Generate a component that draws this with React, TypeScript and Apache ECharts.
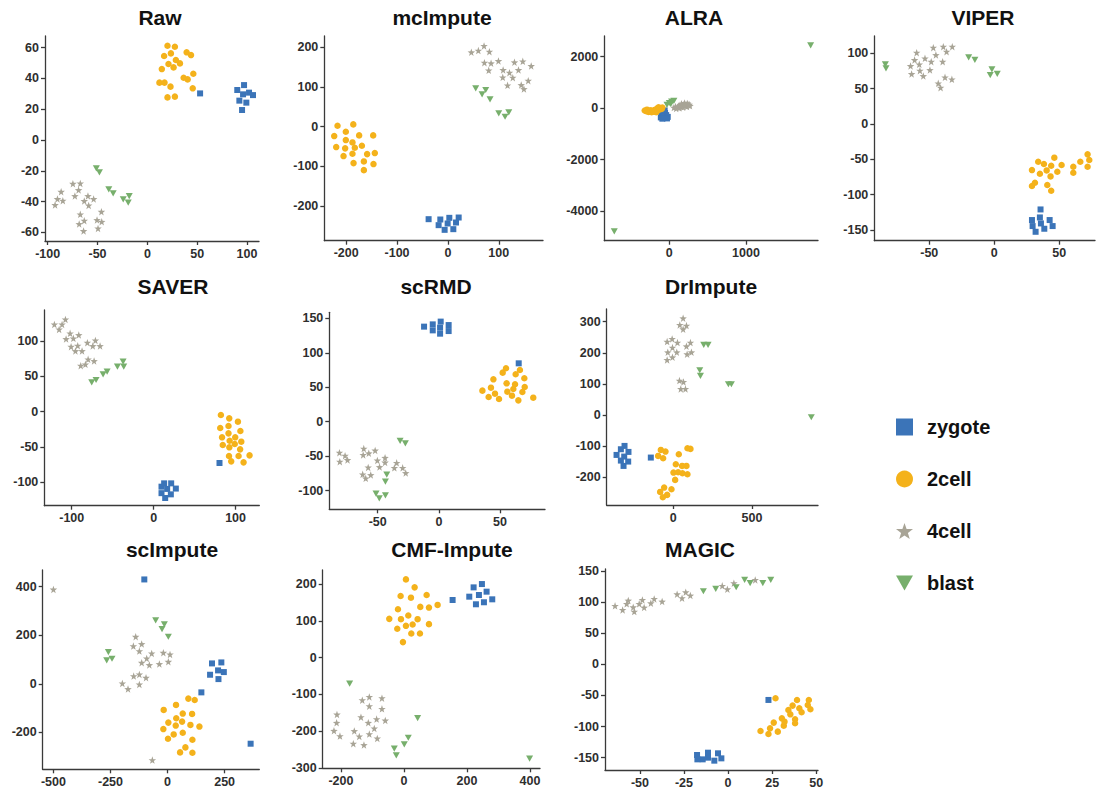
import React, { useEffect, useRef } from 'react';
import * as echarts from 'echarts';

// ---------- data: [x, y] per cell, per method ----------
const rawZygote = [[52.9,30.3],[90.2,32.5],[97,35.7],[96,29.7],[102,30.8],[106,29.2],[92.3,25.6],[99.3,24.3],[95,19.5]];
const raw2cell = [[20.2,61.3],[27.6,60.6],[16.8,54.6],[23.6,56.3],[28.6,52],[39.4,57],[43.8,55.2],[21.2,49.4],[26.3,47.2],[32.7,49.8],[14.5,46.1],[46.1,43.1],[36.4,40.5],[40.4,39.4],[12.1,37.3],[17.2,37.3],[23.2,34.7],[45.5,33.6],[20.2,27.7],[27.6,28.2]];
const raw4cell = [[-74.7,-28.4],[-67.3,-28.2],[-69,-32.5],[-86.5,-33.6],[-90.2,-38.3],[-84.8,-39.4],[-92.6,-42.2],[-72.7,-36.4],[-59.6,-36.4],[-53.9,-38.3],[-63.3,-39.6],[-58.9,-42.5],[-67.3,-48.3],[-46.1,-46.6],[-63.3,-52.4],[-68.4,-54.6],[-50.5,-52],[-45.8,-53.1],[-49.5,-57.4],[-64,-59.1]];
const rawBlast = [[-51.2,-18.4],[-48.1,-21],[-38.7,-32.1],[-34.3,-34.7],[-24.2,-38.6],[-18.2,-36.4],[-19.2,-40.7]];

const mcZygote = [[-37.9,-233.7],[-14.9,-234.5],[2.8,-230.3],[21.2,-229.5],[-18.2,-248.8],[-0.5,-244.6],[16,-242.1],[-6.4,-260.6],[10.7,-258.9]];
const mc2cell = [[-217,2],[-186,5.5],[-223.5,-24],[-200.7,-13],[-174.5,-22.3],[-146.9,-22.3],[-219.6,-51.8],[-200.7,-34.1],[-187.6,-40],[-202,-55],[-183,-53.5],[-169.1,-48.4],[-187.6,-68.6],[-205.2,-74.5],[-158.8,-69.5],[-143.7,-66.9],[-165.2,-88],[-185.5,-92.2],[-146.3,-94.7],[-165.2,-110]];
const mc4cell = [[46.1,187.4],[59.9,191.6],[71.1,203.4],[81.6,189],[71.8,161.3],[84.9,159.6],[80.3,141.9],[99.4,165.5],[108.6,142.7],[121.1,136],[107.9,124.2],[127.6,123.4],[130.9,162.1],[138.8,142.7],[147.3,164.6],[163.8,152.8],[117.3,104],[144.2,104.8],[149.5,94.7],[158,115.8]];
const mcBlast = [[54.7,96.4],[74.4,92.2],[67.2,81.3],[82.9,68.6],[100,33.3],[112.4,24.8],[119.7,35.8]];

const alraZygote = [[-60,-90],[-55,-190],[-100,-260],[-40,-270],[-110,-360],[-70,-330],[-20,-340],[-90,-410],[-30,-400]];
const alra2cell = [[-320,-90],[-300,-120],[-290,-60],[-270,-150],[-260,-100],[-250,-130],[-240,-80],[-230,-160],[-210,-110],[-200,-140],[-190,-70],[-180,-120],[-170,-160],[-160,-20],[-150,-90],[-140,30],[-130,-50],[-120,0],[-100,-30],[-90,20]];
const alra4cell = [[60,20],[80,60],[90,-10],[110,40],[120,80],[130,10],[140,120],[150,60],[160,170],[170,100],[180,30],[190,140],[200,200],[210,90],[220,150],[230,60],[240,180],[250,110],[260,140],[270,90]];
const alraBlast = [[1843,2443],[-717,-4788],[-30,130],[0,200],[30,250],[60,280],[20,160]];

const viperZygote = [[35.6,-120.8],[35.1,-132.1],[29,-135.8],[35.9,-140.6],[42.6,-135.8],[29.5,-144.3],[38.5,-148.1],[44.9,-144.3],[31.8,-152.4]];
const viper2cell = [[33.8,-53.3],[46.2,-47.6],[38.2,-56.6],[43.8,-59],[51.8,-58],[29,-65.1],[40.3,-65.6],[48.5,-67.5],[35.1,-70.3],[43.3,-74.1],[60.8,-60.4],[60.8,-68.9],[66.2,-53.3],[71.8,-42.9],[73.1,-50.9],[71.8,-60.4],[31.3,-83],[29,-87.7],[40.8,-86.3],[43.8,-94.3]];
const viper4cell = [[-59.7,100.9],[-46.9,108],[-39.2,109.4],[-32.3,109.4],[-36.7,102.4],[-61.3,90.6],[-53.3,92.9],[-44.9,97.6],[-57.7,84.4],[-48.5,88.2],[-39.7,88.2],[-64.4,82.1],[-57.2,75.5],[-49.5,76.4],[-63.6,70.8],[-54.6,67.9],[-43.1,57.5],[-41.3,51.4],[-37.9,66],[-32.6,63.2]];
const viperBlast = [[-83.8,84.4],[-83.3,78.8],[-19.7,94.3],[-14.9,90.6],[-1.8,77.4],[-3.1,69.3],[2.3,70.8]];

const saverZygote = [[80.4,-73],[9.6,-106.6],[21.4,-101.9],[12.8,-101.9],[16.5,-109.8],[27.1,-109.3],[9.6,-115.8],[21,-117.5],[14.1,-122.7]];
const saver2cell = [[82.1,-5],[92.3,-9.7],[102.9,-14.4],[81.3,-23.4],[91.4,-20.6],[105.9,-27.7],[83.5,-36.6],[91.4,-31],[99.6,-36.6],[107,-42.8],[84.4,-47.5],[92.8,-41.4],[99,-46.1],[92.4,-50.8],[105.6,-53.7],[92,-63.1],[103.7,-63.1],[117.1,-62.2],[94.7,-70.7],[109.8,-72.1]];
const saver4cell = [[-121.2,123.6],[-111.8,123.6],[-107.7,130.7],[-115.4,116.5],[-102,110.9],[-91.4,108.5],[-106.9,102.8],[-98,103.8],[-100.8,92],[-92.7,93.4],[-95.5,85.8],[-87.4,85.8],[-80.9,97.6],[-71.1,100.9],[-74.3,92.9],[-65.4,92.9],[-80,74],[-72.7,71.6],[-89,65],[-83.3,66.9]];
const saverBlast = [[-75.6,41.4],[-70.3,44.7],[-61.7,52.7],[-56.8,56.5],[-44.2,63.6],[-37.3,70.7],[-36.5,63.6]];

const scrmdZygote = [[-12.1,137.9],[-5,141.2],[-5,132.5],[1.5,145.2],[1,136.4],[1,127.7],[8,140.2],[8,131.5],[65.3,84.7]];
const scrmd2cell = [[52.2,71.2],[54.9,77.5],[66.3,75.1],[62.8,68.8],[44.6,61.5],[55.4,55.7],[62.3,54.3],[69.9,63],[35.6,45.1],[42.6,49.4],[45.9,40.7],[56,43.6],[60.9,47.5],[68.3,43.1],[70.2,50.4],[40.7,35.9],[49.2,33],[59.8,37.8],[65,31],[77.2,34.9]];
const scrmd4cell = [[-81.3,-44.9],[-76.7,-49.2],[-81,-57.9],[-74.7,-55.5],[-61.4,-39],[-57.3,-45.8],[-61.9,-48.2],[-52.1,-41.7],[-50.3,-56.1],[-44,-52.3],[-44,-59.1],[-57.8,-66.2],[-48.5,-65.7],[-62.3,-76.3],[-55.7,-77.3],[-59.8,-82.1],[-34.5,-59.6],[-36.4,-66.9],[-29.6,-66.9],[-27.1,-74.4]];
const scrmdBlast = [[-31.7,-27.9],[-27.4,-31.3],[-42.6,-76.8],[-43.7,-87],[-51.4,-104.4],[-48.7,-111.2],[-43.7,-106.9]];

const drZygote = [[-308,-99.8],[-331.2,-110.5],[-283,-119.1],[-358.6,-128.8],[-310.1,-134.1],[-331.2,-147],[-284.8,-150.2],[-314.3,-164.2],[-141.4,-137.3]];
const dr2cell = [[-78,-112.7],[-48.5,-118],[-95,-132],[-63.3,-139.5],[90.7,-107.3],[109.7,-109.4],[35.9,-126.6],[16.9,-158.8],[57,-164.2],[84.4,-164.2],[2.1,-185.6],[31.6,-184.5],[59.1,-187.8],[90.7,-191],[12.7,-209.2],[-57,-233.9],[-82.3,-247.9],[-38,-257.5],[-65.4,-265],[-10.5,-239.3]];
const dr4cell = [[63.3,311],[42.2,289.7],[84.4,287.6],[63.3,275.8],[-38,236],[-6.3,244.6],[27.4,232.8],[-4.2,216.7],[109.7,232.8],[84.4,221],[-33.8,201.7],[23.2,201.7],[116,201.7],[88.6,195.3],[-4.2,185.6],[-38,177],[40,110.5],[65.4,106.2],[48.5,83.7],[78,83.7]];
const drBlast = [[194,225.3],[221.5,225.3],[168.8,143.8],[173,125.5],[350.2,98.7],[369.2,98.7],[875.5,-7.5]];

const sciZygote = [[-101.8,430.1],[194.8,84.2],[235.7,88.3],[221.3,55.4],[186.3,37.5],[246.6,48.5],[223.1,19.6],[148.2,-35.1],[364,-246.6]];
const sci2cell = [[91.1,-60.8],[118.9,-66.3],[37.1,-86.8],[-16.9,-107.4],[66.6,-122.5],[107.5,-123.9],[38.1,-141.7],[3.5,-159.6],[63.7,-155.5],[35.9,-171.9],[100.2,-169.2],[139.6,-176],[-18.4,-186.3],[26.9,-208.3],[66.6,-201.4],[2,-226.1],[108.9,-230.2],[78.2,-261.8],[54.9,-282.4],[108.9,-283.8]];
const sci4cell = [[-500,388.8],[-139.6,194],[-149.8,155.6],[-113.3,163.9],[-123.5,135],[-69.4,125.4],[-91.3,104.8],[-18.4,128.1],[10.8,121.2],[3.5,91.1],[-35.9,81.5],[-79.7,77.4],[-113.3,87],[-148.3,32],[-123.5,38.9],[-94.3,25.1],[-198,1.8],[-173.2,-21.4],[-123.5,-2.3],[-66.6,-314]];
const sciBlast = [[-52,261.4],[-14,245],[-24.2,225.7],[3.5,194],[-259.3,130.9],[-266.6,96.6],[-243.3,103.4]];

const cmfZygote = [[154.5,156.5],[221.2,190.8],[247.6,199.8],[207.4,165.5],[238.1,170],[262.4,179.1],[280.4,158.3],[228.6,144.8],[254,150.3]];
const cmf2cell = [[6.3,212.5],[33.9,190.8],[-10.6,167.3],[22.2,162.8],[72,170],[-19,131.4],[51.9,137.7],[79.4,135.9],[106.9,143.1],[-46.6,105.2],[-9.5,104.3],[13.8,114.3],[43.4,104.3],[-21.2,78.2],[6.3,86.3],[27.5,89.9],[79.4,90.8],[23.3,65.5],[50.8,65.5],[-3.2,42]];
const cmf4cell = [[-212.7,-154.7],[-213.8,-177.3],[-222.2,-199],[-203.2,-213.4],[-132.3,-115.9],[-110,-106.9],[-110,-132.2],[-69.8,-110.5],[-69.8,-139.4],[-59.3,-171],[-136.5,-162],[-113.2,-177.3],[-86.8,-167.3],[-94.2,-192.6],[-157.7,-199.8],[-141.8,-214.3],[-110,-208],[-84.7,-219.7],[-160.8,-234.1],[-127,-237.7]];
const cmfBlast = [[-172.5,-70.8],[43.4,-164.6],[13.8,-217.9],[1.1,-235.9],[-30.7,-247.7],[-24.3,-265.7],[398.9,-274.7]];

const magicZygote = [[22.9,-57.3],[-17.6,-145.7],[-14.4,-152.7],[-11.4,-142],[-11.4,-150],[-7.8,-154.8],[-5.7,-143],[-3.8,-151.1],[-17.4,-152.7]];
const magic2cell = [[26.9,-54.6],[18.4,-107.1],[22.9,-112],[23.8,-102.9],[25.9,-93.7],[28.2,-108.2],[30.5,-86.8],[31.6,-98.6],[32,-92.2],[34.2,-73.4],[35.3,-80.4],[36.6,-66.4],[38,-88.4],[38,-94.8],[39.1,-57.3],[40.4,-70.7],[41.7,-77.1],[45.2,-65.4],[45.8,-57.3],[46.7,-72.3]];
const magic4cell = [[-64.1,93.8],[-59.8,87.3],[-57.5,97],[-56.6,102.3],[-53.8,91.6],[-53.2,84.6],[-50.4,97],[-48.6,103.4],[-47.6,91.1],[-43.8,98],[-41.9,105],[-37.4,100.7],[-28.9,112.5],[-26.1,106.1],[-24,115.7],[-21.4,110.4],[-3.3,125.9],[-0.4,120.5],[3.3,130.2],[15.4,135.5]];
const magicBlast = [[-14,117.3],[-7,121.1],[4.6,123.7],[9.4,135.5],[12.5,130.2],[19.7,130.2],[24.2,135.5]];

// ---------- tick labels ----------
const rawXTicks = [-100, -50, 0, 50, 100];
const rawYTicks = [-60, -40, -20, 0, 20, 40, 60];
const mcXTicks = [-200, -100, 0, 100];
const mcYTicks = [-200, -100, 0, 100, 200];
const alraXTicks = [0, 1000];
const alraYTicks = [-4000, -2000, 0, 2000];
const viperXTicks = [-50, 0, 50];
const viperYTicks = [-150, -100, -50, 0, 50, 100];
const saverXTicks = [-100, 0, 100];
const saverYTicks = [-100, -50, 0, 50, 100];
const scrmdXTicks = [-50, 0, 50];
const scrmdYTicks = [-100, -50, 0, 50, 100, 150];
const drXTicks = [0, 500];
const drYTicks = [-200, -100, 0, 100, 200, 300];
const sciXTicks = [-500, -250, 0, 250];
const sciYTicks = [-200, 0, 200, 400];
const cmfXTicks = [-200, 0, 200, 400];
const cmfYTicks = [-300, -200, -100, 0, 100, 200];
const magicXTicks = [-50, -25, 0, 25, 50];
const magicYTicks = [-150, -100, -50, 0, 50, 100, 150];

const classNames = ['zygote', '2cell', '4cell', 'blast'];

// ---------- styling / layout ----------
const COLORS = ['#3B74B8', '#F4B21B', '#A8A496', '#77AF6C'];
const STAR = 'path://M50 0L61.76 33.82L97.55 34.55L69.02 56.18L79.39 90.45L50 70L20.61 90.45L30.98 56.18L2.45 34.55L38.24 33.82Z';
const TRI_DOWN = 'path://M0 0L100 0L50 87Z';
const SYMBOLS = ['rect', 'circle', STAR, TRI_DOWN];
const SIZES: any[] = [6, 6.5, 7.5, [7, 6.2]];
const FONT = '"Liberation Sans", Arial, sans-serif';

const panels = [
  { title: 'Raw', sets: [rawZygote, raw2cell, raw4cell, rawBlast], xt: rawXTicks, yt: rawYTicks, xr: [-102.7, 112], yr: [-65.6, 67.6], g: [45, 36, 214, 205], tp: [160, 17] },
  { title: 'mcImpute', sets: [mcZygote, mc2cell, mc4cell, mcBlast], xt: mcXTicks, yt: mcYTicks, xr: [-243, 187], yr: [-288, 228.5], g: [324.3, 36, 218.7, 204.7], tp: [442, 17] },
  { title: 'ALRA', sets: [alraZygote, alra2cell, alra4cell, alraBlast], xt: alraXTicks, yt: alraYTicks, xr: [-847, 1939], yr: [-5153, 2804], g: [604.3, 36, 213.7, 204.7], tp: [694, 17] },
  { title: 'VIPER', sets: [viperZygote, viper2cell, viper4cell, viperBlast], xt: viperXTicks, yt: viperYTicks, xr: [-92.3, 77.5], yr: [-165, 124.5], g: [874.3, 36, 220.7, 204.7], tp: [983, 17] },
  { title: 'SAVER', sets: [saverZygote, saver2cell, saver4cell, saverBlast], xt: saverXTicks, yt: saverYTicks, xr: [-133.5, 129], yr: [-133.6, 144], g: [44.3, 310, 215, 195.7], tp: [173, 286] },
  { title: 'scRMD', sets: [scrmdZygote, scrmd2cell, scrmd4cell, scrmdBlast], xt: scrmdXTicks, yt: scrmdYTicks, xr: [-89.6, 86.8], yr: [-127, 158.7], g: [329.3, 312.3, 215.7, 197], tp: [436, 286] },
  { title: 'DrImpute', sets: [drZygote, dr2cell, dr4cell, drBlast], xt: drXTicks, yt: drYTicks, xr: [-421, 918], yr: [-290, 341], g: [606.7, 309, 211.3, 196], tp: [711, 286] },
  { title: 'scImpute', sets: [sciZygote, sci2cell, sci4cell, sciBlast], xt: sciXTicks, yt: sciYTicks, xr: [-547, 402], yr: [-352, 469], g: [42.7, 570, 216.6, 199.3], tp: [172, 549] },
  { title: 'CMF-Impute', sets: [cmfZygote, cmf2cell, cmf4cell, cmfBlast], xt: cmfXTicks, yt: cmfYTicks, xr: [-258, 432], yr: [-301, 238], g: [322.7, 570, 217.3, 198.3], tp: [452, 549] },
  { title: 'MAGIC', sets: [magicZygote, magic2cell, magic4cell, magicBlast], xt: magicXTicks, yt: magicYTicks, xr: [-69.8, 51], yr: [-169.8, 153], g: [605, 569, 213, 201], tp: [700, 549] },
];

function buildOption() {
  const axisLineStyle = { color: '#3a3a3a', width: 1.3 };
  const labelStyle = {
    color: '#2e2e2e', fontSize: 12.5, fontWeight: 'bold' as const, fontFamily: FONT,
    formatter: (v: number) => String(v),
  };
  const grid: any[] = [];
  const xAxis: any[] = [];
  const yAxis: any[] = [];
  const series: any[] = [];
  const graphic: any[] = [];
  panels.forEach((p, i) => {
    grid.push({ left: p.g[0], top: p.g[1], width: p.g[2], height: p.g[3] });
    xAxis.push({
      type: 'value', gridIndex: i, min: p.xr[0], max: p.xr[1], position: 'bottom',
      axisLine: { show: true, onZero: false, lineStyle: axisLineStyle },
      axisTick: { show: true, length: 4, customValues: p.xt, lineStyle: axisLineStyle },
      axisLabel: { show: true, customValues: p.xt, margin: 6, ...labelStyle },
      splitLine: { show: false },
    });
    yAxis.push({
      type: 'value', gridIndex: i, min: p.yr[0], max: p.yr[1], position: 'left',
      axisLine: { show: true, onZero: false, lineStyle: axisLineStyle },
      axisTick: { show: true, length: 4, customValues: p.yt, lineStyle: axisLineStyle },
      axisLabel: { show: true, customValues: p.yt, margin: 6, ...labelStyle },
      splitLine: { show: false },
    });
    p.sets.forEach((d, k) => {
      series.push({
        type: 'scatter', name: classNames[k], xAxisIndex: i, yAxisIndex: i,
        data: d, symbol: SYMBOLS[k], symbolSize: SIZES[k],
        itemStyle: { color: COLORS[k], opacity: 1 },
        silent: true, emphasis: { disabled: true },
      });
    });
    graphic.push({
      type: 'text', x: p.tp[0], y: p.tp[1],
      style: {
        text: p.title, font: `bold 21px ${FONT}`, fill: '#111',
        align: 'center', verticalAlign: 'middle', textAlign: 'center', textVerticalAlign: 'middle',
      },
    });
  });
  return {
    animation: false,
    backgroundColor: '#fff',
    grid, xAxis, yAxis, series, graphic,
    legend: {
      orient: 'vertical', left: 891, top: 412,
      itemWidth: 17, itemHeight: 17, itemGap: 32,
      selectedMode: false,
      data: classNames.map((n, k) => ({ name: n, icon: SYMBOLS[k], itemStyle: { color: COLORS[k] } })),
      textStyle: { fontSize: 20, fontWeight: 'bold', color: '#111', fontFamily: FONT, padding: [0, 0, 0, 9] },
    },
  };
}

export default function App() {
  const ref = useRef<HTMLDivElement>(null);
  useEffect(() => {
    if (!ref.current) return;
    const chart = echarts.init(ref.current, undefined, { renderer: 'svg' });
    chart.setOption(buildOption() as any);
    return () => chart.dispose();
  }, []);
  return <div ref={ref} style={{ position: 'absolute', left: 0, top: 0, width: 1096, height: 789, background: '#fff' }} />;
}
